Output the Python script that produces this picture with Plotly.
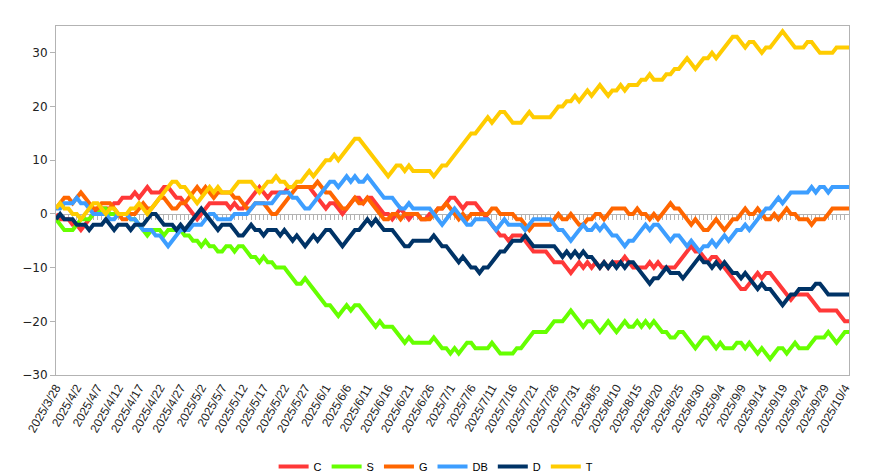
import datetime as dt
import plotly.graph_objects as go

start = dt.date(2025, 3, 28)
n_days = 192
categories = [f"{(start + dt.timedelta(days=i)).year}/{(start + dt.timedelta(days=i)).month}/{(start + dt.timedelta(days=i)).day}" for i in range(n_days)]

tick_labels = ["2025/3/28", "2025/4/2", "2025/4/7", "2025/4/12", "2025/4/17", "2025/4/22", "2025/4/27",
               "2025/5/2", "2025/5/7", "2025/5/12", "2025/5/17", "2025/5/22", "2025/5/27", "2025/6/1",
               "2025/6/6", "2025/6/11", "2025/6/16", "2025/6/21", "2025/6/26", "2025/7/1", "2025/7/6",
               "2025/7/11", "2025/7/16", "2025/7/21", "2025/7/26", "2025/7/31", "2025/8/5", "2025/8/10",
               "2025/8/15", "2025/8/20", "2025/8/25", "2025/8/30", "2025/9/4", "2025/9/9", "2025/9/14",
               "2025/9/19", "2025/9/24", "2025/9/29", "2025/10/4"]

C = [0, -1, -1, -1, -2, -2, -3, -2, -1, 0,
     1, 1, 1, 1, 2, 2, 3, 3, 3, 4,
     3, 4, 5, 4, 4, 4, 5, 5, 4, 3,
     3, 2, 1, 0, -1, 0, 1, 2, 2, 2,
     2, 2, 1, 2, 1, 1, 2, 3, 4, 5,
     4, 3, 4, 4, 4, 4, 5, 5, 5, 5,
     5, 5, 4, 3, 2, 1, 2, 2, 1, 0,
     1, 2, 3, 3, 2, 3, 3, 2, 1, 0,
     0, -1, 0, 1, 0, -1, 0, 0, -1, -1,
     0, 0, 1, 1, 2, 3, 3, 2, 1, 2,
     2, 2, 1, 0, -1, -2, -3, -4, -4, -5,
     -4, -4, -4, -5, -6, -7, -7, -7, -7, -8,
     -9, -9, -9, -10, -11, -10, -9, -10, -9, -10,
     -9, -10, -9, -10, -9, -9, -9, -8, -9, -10,
     -10, -10, -10, -9, -10, -9, -10, -10, -10, -10,
     -9, -8, -7, -6, -7, -7, -8, -9, -8, -8,
     -9, -10, -11, -12, -13, -14, -14, -13, -12, -11,
     -12, -11, -11, -12, -13, -14, -15, -16, -15, -15,
     -15, -15, -16, -17, -18, -18, -18, -18, -18, -19,
     -20, -20]

S = [-1, -2, -3, -3, -3, -2, -1, -1, -1, 0,
     0, 1, 1, 0, 0, 0, 0, 0, -1, -1,
     -2, -3, -4, -3, -3, -3, -4, -3, -3, -3,
     -3, -4, -4, -5, -5, -6, -5, -6, -6, -7,
     -7, -6, -6, -7, -6, -6, -7, -8, -8, -9,
     -8, -9, -9, -10, -10, -10, -11, -12, -13, -13,
     -12, -13, -14, -15, -16, -17, -17, -18, -19, -18,
     -17, -18, -17, -17, -18, -19, -20, -21, -20, -21,
     -21, -21, -22, -23, -24, -23, -24, -24, -24, -24,
     -24, -23, -24, -25, -25, -26, -25, -26, -25, -24,
     -24, -25, -25, -25, -25, -24, -25, -26, -26, -26,
     -26, -25, -25, -24, -23, -22, -22, -22, -22, -21,
     -20, -20, -20, -19, -18, -19, -20, -21, -20, -20,
     -21, -22, -21, -20, -21, -22, -21, -20, -21, -21,
     -20, -21, -20, -21, -20, -21, -22, -22, -23, -23,
     -22, -22, -23, -24, -25, -24, -23, -23, -24, -25,
     -24, -25, -25, -25, -24, -24, -25, -24, -25, -26,
     -25, -26, -27, -26, -25, -25, -26, -25, -24, -25,
     -25, -25, -24, -23, -23, -23, -22, -23, -24, -23,
     -22, -22]

G = [1, 2, 3, 3, 2, 3, 4, 3, 2, 1,
     1, 2, 2, 2, 1, 0, -1, -1, 0, 0,
     1, 2, 1, 1, 2, 3, 3, 2, 1, 1,
     2, 2, 3, 4, 5, 4, 5, 4, 3, 4,
     4, 4, 4, 3, 3, 2, 1, 1, 2, 2,
     2, 1, 0, 0, 1, 2, 3, 4, 5, 5,
     5, 5, 5, 6, 5, 4, 4, 3, 2, 1,
     1, 2, 3, 2, 2, 3, 2, 1, 0, -1,
     -1, 0, 0, -1, 0, 0, 0, 0, -1, -1,
     -1, 0, 1, 1, 2, 1, 0, -1, 0, -1,
     0, 0, 0, 0, 0, 1, 1, 0, 0, 0,
     0, -1, -1, -2, -3, -2, -2, -2, -2, -2,
     -1, 0, -1, -1, 0, -1, -2, -2, -1, -1,
     0, 0, -1, 0, 1, 1, 1, 1, 0, 0,
     1, 0, 0, -1, 0, -1, 0, 1, 2, 1,
     1, 0, -1, -2, -1, -2, -3, -3, -2, -1,
     -2, -3, -2, -1, -1, 0, 1, 0, 0, 1,
     0, -1, -1, 0, -1, 0, 1, 0, 0, -1,
     -1, -1, -2, -1, -1, -1, 0, 1, 1, 1,
     1, 1]

DB = [1, 1, 2, 2, 2, 3, 2, 2, 1, 0,
      0, 0, 0, -1, -1, 0, 0, 0, -1, -1,
      -2, -3, -3, -3, -4, -4, -5, -6, -5, -4,
      -3, -3, -3, -2, -2, -2, -1, 0, 0, -1,
      -1, -1, -1, 0, 0, 0, 0, 1, 2, 2,
      2, 2, 2, 3, 4, 4, 4, 3, 3, 2,
      1, 1, 2, 3, 4, 5, 6, 6, 5, 6,
      7, 6, 7, 6, 6, 7, 6, 5, 4, 3,
      3, 3, 2, 1, 1, 2, 1, 1, 1, 1,
      1, 0, -1, -2, -1, 0, 1, 0, -1, -2,
      -2, -1, -1, -1, -1, -2, -3, -2, -1, -2,
      -2, -2, -2, -3, -2, -1, -1, -1, -1, -1,
      -2, -3, -3, -4, -5, -4, -3, -2, -3, -3,
      -2, -3, -2, -3, -4, -4, -5, -6, -5, -5,
      -4, -3, -2, -3, -2, -2, -3, -4, -5, -4,
      -4, -5, -6, -5, -6, -7, -6, -6, -5, -6,
      -5, -4, -5, -4, -3, -3, -2, -3, -2, -1,
      0, 1, 1, 2, 3, 2, 3, 4, 4, 4,
      4, 4, 5, 4, 5, 5, 4, 5, 5, 5,
      5, 5]

D = [-1, 0, -1, -1, -1, -2, -2, -2, -3, -2,
     -2, -2, -1, -2, -3, -2, -2, -2, -3, -2,
     -2, -2, -1, 0, 0, -1, -2, -2, -2, -3,
     -2, -3, -2, -1, 0, 1, 0, -1, -2, -3,
     -2, -2, -2, -3, -4, -4, -3, -2, -3, -3,
     -4, -3, -3, -3, -4, -3, -4, -5, -4, -5,
     -6, -5, -4, -5, -4, -3, -3, -4, -5, -6,
     -5, -4, -3, -3, -2, -1, -2, -1, -2, -3,
     -3, -3, -4, -5, -6, -6, -5, -5, -5, -5,
     -5, -4, -5, -6, -6, -7, -8, -9, -8, -9,
     -10, -10, -11, -10, -10, -9, -8, -7, -7, -6,
     -5, -5, -5, -4, -5, -6, -6, -6, -6, -6,
     -6, -7, -8, -7, -8, -7, -8, -7, -8, -8,
     -9, -10, -9, -10, -9, -10, -9, -10, -9, -9,
     -10, -11, -12, -13, -12, -12, -11, -10, -11, -11,
     -11, -12, -11, -10, -9, -8, -9, -9, -10, -9,
     -10, -9, -10, -11, -11, -12, -11, -12, -13, -14,
     -13, -14, -14, -15, -16, -17, -16, -15, -15, -14,
     -14, -14, -14, -13, -13, -14, -15, -15, -15, -15,
     -15, -15]

T = [1, 2, 1, 1, 0, 0, -1, 0, 1, 2,
     2, 1, 0, 1, 1, 0, 0, 0, 1, 1,
     2, 1, 0, 1, 2, 3, 4, 5, 6, 6,
     5, 5, 4, 3, 2, 3, 4, 5, 4, 5,
     4, 4, 4, 5, 6, 6, 6, 6, 5, 4,
     5, 6, 6, 7, 6, 6, 5, 5, 6, 6,
     7, 8, 7, 8, 9, 10, 10, 11, 10, 11,
     12, 13, 14, 14, 13, 12, 11, 10, 9, 8,
     7, 8, 9, 9, 8, 9, 8, 8, 8, 8,
     8, 7, 8, 9, 9, 10, 11, 12, 13, 14,
     15, 15, 16, 17, 18, 17, 18, 19, 19, 18,
     17, 17, 17, 18, 19, 18, 18, 18, 18, 18,
     19, 20, 20, 21, 21, 22, 21, 22, 23, 22,
     23, 24, 23, 22, 23, 23, 24, 23, 24, 24,
     24, 25, 25, 26, 25, 25, 25, 26, 26, 27,
     27, 28, 29, 28, 27, 28, 29, 29, 30, 29,
     30, 31, 32, 33, 33, 32, 31, 32, 32, 31,
     30, 31, 31, 32, 33, 34, 33, 32, 31, 31,
     31, 32, 32, 31, 30, 30, 30, 30, 31, 31,
     31, 31]

series = [("C", C, "#ff3838"), ("S", S, "#66ff00"), ("G", G, "#ff6600"),
          ("DB", DB, "#3d9eff"), ("D", D, "#003366"), ("T", T, "#ffcc00")]

x_idx = list(range(n_days))
fig = go.Figure()
for name, vals, color in series:
    fig.add_trace(go.Scatter(x=x_idx, y=vals, name=name, mode="lines",
                             line=dict(color=color, width=4),
                             customdata=categories, hovertemplate="%{customdata}: %{y}<extra>" + name + "</extra>"))

# invisible trace so the zero-crossing category axis is drawn
fig.add_trace(go.Scatter(x=[0, n_days - 1], y=[0, 0], xaxis="x2", mode="lines",
                         line=dict(width=0), showlegend=False, hoverinfo="skip"))

axis_grey = "#b3b3b3"
fig.update_layout(
    template="none",
    width=880, height=476,
    margin=dict(l=48, r=39, t=18, b=109),
    paper_bgcolor="white", plot_bgcolor="white",
    font=dict(family="Liberation Sans", size=12, color="#222222"),
    showlegend=True,
    legend=dict(orientation="h", xref="container", yref="container",
                x=0.4865, y=0.0672, xanchor="center", yanchor="top",
                font=dict(family="Liberation Sans", size=11, color="#000000"),
                bgcolor="rgba(0,0,0,0)", itemwidth=30),
    xaxis=dict(range=[0, n_days - 1], showgrid=False, zeroline=False,
               showline=True, linecolor=axis_grey, linewidth=1, mirror=True,
               ticks="", tickmode="array",
               tickvals=[i * 5 for i in range(len(tick_labels))], ticktext=tick_labels,
               tickangle=-60, automargin=False,
               tickfont=dict(family="Liberation Sans", size=12, color="#222222")),
    xaxis2=dict(range=[0, n_days - 1], overlaying="x", anchor="free", position=30 / 65,
                showgrid=False, zeroline=False, showline=True, linecolor=axis_grey, linewidth=1,
                ticks="outside", ticklen=5, tickcolor=axis_grey, tickwidth=1,
                tickmode="linear", tick0=0, dtick=1, showticklabels=False,
                layer="below traces", automargin=False),
    yaxis=dict(range=[-30, 35], showgrid=False, zeroline=False,
               showline=True, linecolor=axis_grey, linewidth=1, mirror=True,
               ticks="outside", ticklen=5, tickcolor=axis_grey,
               tickmode="array", tickvals=[-30, -20, -10, 0, 10, 20, 30],
               automargin=False,
               tickfont=dict(family="DejaVu Sans", size=12, color="#222222")),
)

fig.write_html("out.html")
